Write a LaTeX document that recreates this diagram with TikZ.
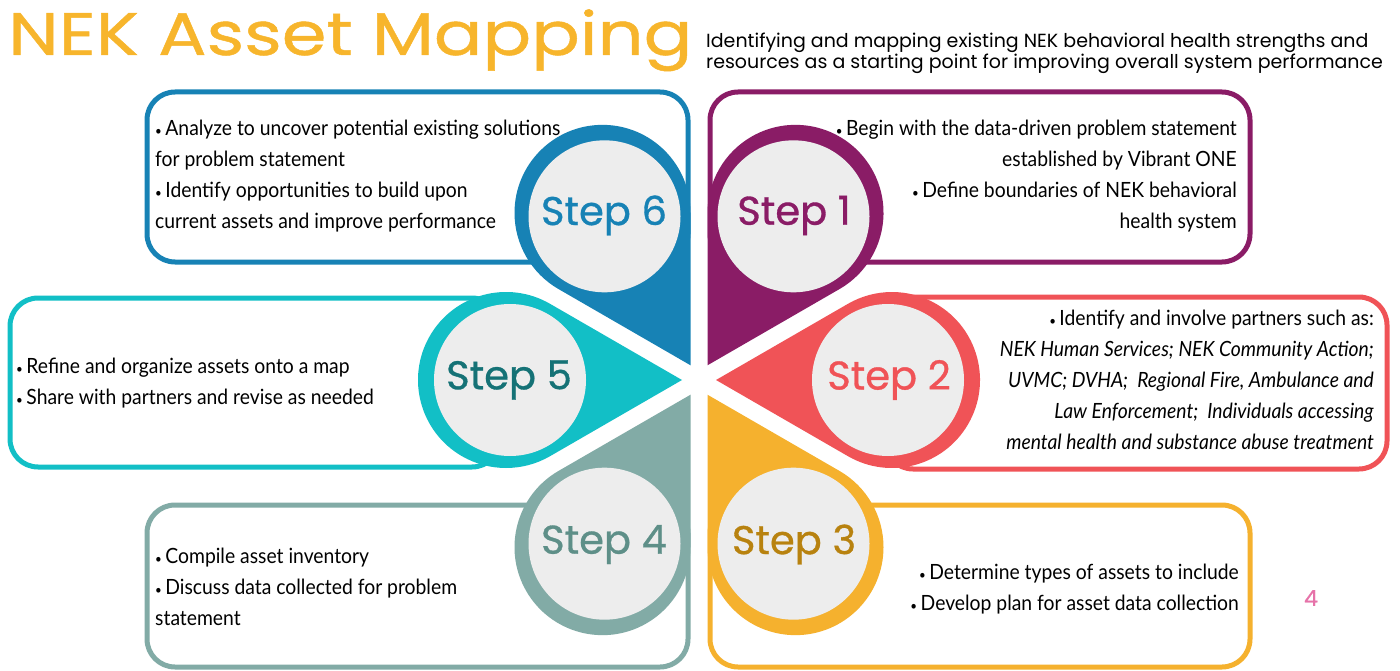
\documentclass[tikz,border=0pt]{standalone}
\usepackage{fontspec}
\usepackage{graphicx}
\usetikzlibrary{calc}
\setmainfont[FakeStretch=0.92]{Lato}
\newfontfamily\titlefont[FakeStretch=1.2, FakeBold=0.8]{Poppins}
\newfontfamily\stepfont[FakeBold=0.8]{Poppins}
\newfontfamily\subfont{Poppins}

\definecolor{cblue}{HTML}{1782B5}
\definecolor{cpurple}{HTML}{8A1C66}
\definecolor{cred}{HTML}{F05357}
\definecolor{cyellow}{HTML}{F5B12E}
\definecolor{cteal}{HTML}{82ABA6}
\definecolor{ccyan}{HTML}{12BFC6}
\definecolor{cgray}{HTML}{EDEDED}
\definecolor{tgold}{HTML}{B8820F}
\definecolor{tteal}{HTML}{5E8F88}
\definecolor{tcyan}{HTML}{157276}
\definecolor{ctitle}{HTML}{F7B52C}
\definecolor{cpink}{HTML}{E673A9}

\newcommand{\bul}{{\scalebox{0.6}{\textbullet}}\,}

\tikzset{
  box/.style={line width=5pt, rounded corners=28pt, fill=white},
  txt/.style={font=\fontsize{21pt}{31pt}\selectfont, inner sep=0pt},
  steplab/.style={font=\stepfont\fontsize{40pt}{40pt}\selectfont, inner sep=0pt},
}

\begin{document}
\begin{tikzpicture}[x=1pt,y=1pt]
\useasboundingbox (0,0) rectangle (1400,-671);
\coordinate (ctr) at (699,-380);

% heading
\node[anchor=base west, text=ctitle, font=\titlefont\fontsize{60pt}{60pt}\selectfont, inner sep=0pt] (title) at (8,-55) {NEK Asset Mapping};
\node[anchor=north west, align=left, font=\subfont\fontsize{19pt}{19pt}\selectfont, inner sep=0pt] (sub) at (706,-33)
  {Identifying and mapping existing NEK behavioral health strengths and\\resources as a starting point for improving overall system performance};

% text boxes
\draw[box, draw=cblue] (147,-92) rectangle (688,-262);
\draw[box, draw=cpurple] (710,-92) rectangle (1250,-262);
\draw[box, draw=cred] (885,-297) rectangle (1387,-469);
\draw[box, draw=ccyan] (10,-298) rectangle (500,-467);
\draw[box, draw=cteal] (147,-505) rectangle (688,-667);
\draw[box, draw=cyellow] (710,-505) rectangle (1250,-667);

% petals
\foreach \ang/\col/\tcol/\lab in {60/cpurple/cpurple/1, 0/cred/cred/2, -60/cyellow/tgold/3,
    -120/cteal/tteal/4, 180/ccyan/tcyan/5, 120/cblue/cblue/6}{
  \fill[\col] ($(ctr)+(\ang:17)$) -- ($(ctr)+(\ang:193)+(\ang-120:88)$)
    arc[start angle=\ang-120, end angle=\ang+120, radius=88] -- cycle;
  \fill[cgray] ($(ctr)+(\ang:189)$) circle[radius=76];
  \node[steplab, text=\tcol] (step\lab) at ($(ctr)+(\ang:190)$) {Step \lab};
}

% box texts
\node[txt, anchor=north west, align=left] (t6) at (155,-120)
  {\bul Analyze to uncover potential existing solutions\\for problem statement\\\bul Identify opportunities to build upon\\current assets and improve performance};
\node[txt, anchor=north east, align=right] (t1) at (1237,-120)
  {\bul Begin with the data-driven problem statement\\established by Vibrant ONE\\\bul Define boundaries of NEK behavioral\\health system};
\node[txt, anchor=north east, align=right] (t2) at (1374,-310)
  {\bul Identify and involve partners such as:\\\textit{NEK Human Services; NEK Community Action;}\\\textit{UVMC; DVHA;\ \ Regional Fire, Ambulance and}\\\textit{Law Enforcement;\ \ Individuals accessing}\\\textit{mental health and substance abuse treatment}};
\node[txt, anchor=north west, align=left] (t5) at (16,-358)
  {\bul Refine and organize assets onto a map\\\bul Share with partners and revise as needed};
\node[txt, anchor=north west, align=left] (t4) at (155,-548)
  {\bul Compile asset inventory\\\bul Discuss data collected for problem\\statement};
\node[txt, anchor=north east, align=right] (t3) at (1239,-564)
  {\bul Determine types of assets to include\\\bul Develop plan for asset data collection};

\node[text=cpink, font=\stepfont\fontsize{22pt}{22pt}\selectfont] (pnum) at (1311,-598) {4};
\end{tikzpicture}
\end{document}
